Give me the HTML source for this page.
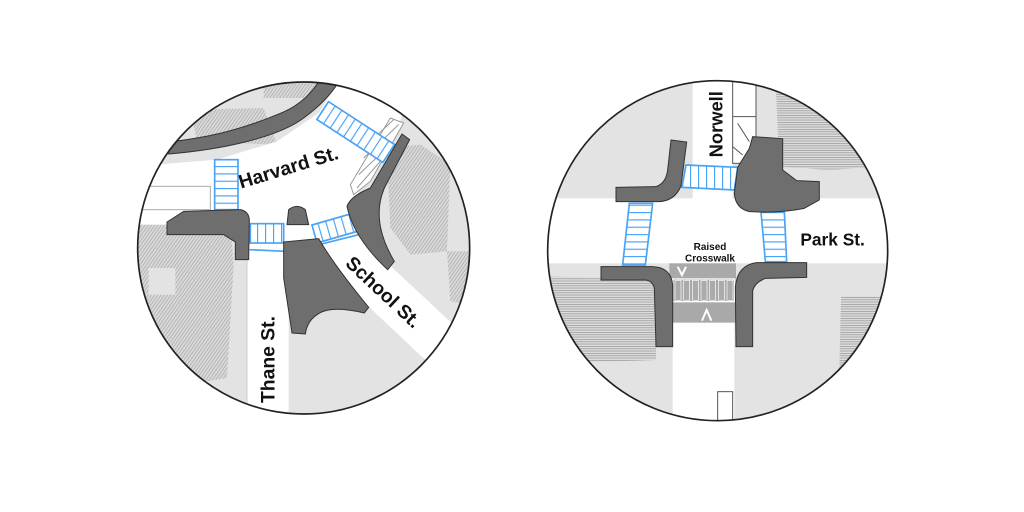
<!DOCTYPE html>
<html><head><meta charset="utf-8"><style>
html,body{margin:0;padding:0;background:#fff}
svg{display:block}
text{font-family:"Liberation Sans",sans-serif;font-weight:bold;fill:#111}
</style></head><body>
<svg width="1024" height="512" viewBox="0 0 1024 512" xmlns="http://www.w3.org/2000/svg">
<defs>
<pattern id="hatchD" patternUnits="userSpaceOnUse" width="8" height="8" patternTransform="rotate(35)">
<rect width="8" height="8" fill="#d8d8d8"/><line x1="0" y1="0" x2="0" y2="8" stroke="#9a9a9a" stroke-width="3"/></pattern>
<pattern id="hatchH" patternUnits="userSpaceOnUse" width="8" height="7">
<rect width="8" height="7" fill="#dcdcdc"/><line x1="0" y1="1" x2="8" y2="1" stroke="#9a9a9a" stroke-width="2.5"/></pattern>
<pattern id="vr" patternUnits="userSpaceOnUse" width="24" height="10">
<rect width="24" height="10" fill="#fff"/><line x1="1" y1="0" x2="1" y2="10" stroke="#4aa3f5" stroke-width="5"/></pattern>
<pattern id="hr" patternUnits="userSpaceOnUse" width="10" height="22">
<rect width="10" height="22" fill="#fff"/><line x1="0" y1="1" x2="10" y2="1" stroke="#4aa3f5" stroke-width="5"/></pattern>
<pattern id="gvr" patternUnits="userSpaceOnUse" width="26" height="10">
<rect width="26" height="10" fill="#8f8f8f"/><rect x="4" width="18" height="10" fill="#ababab"/></pattern>
<clipPath id="cL"><circle cx="500" cy="510" r="498"/></clipPath>
<clipPath id="cR"><circle cx="515" cy="512" r="510"/></clipPath>
</defs>

<!-- LEFT -->
<g transform="translate(137,78) scale(0.33333)">
<g clip-path="url(#cL)">
<rect x="-10" y="-10" width="1030" height="1040" fill="#e3e3e3"/>
<path d="M160,95 L380,90 L420,200 L180,190 Z" fill="url(#hatchD)"/>
<path d="M380,0 L540,0 L530,60 L380,60 Z" fill="url(#hatchD)"/>
<path d="M0,440 L280,440 L290,560 L270,900 L150,920 L0,900 Z" fill="url(#hatchD)"/>
<rect x="35" y="570" width="80" height="80" fill="#e3e3e3"/>
<path d="M750,210 L850,200 L940,260 L930,520 L820,530 L760,450 Z" fill="url(#hatchD)"/>
<path d="M930,520 L1000,520 L1000,680 L940,670 Z" fill="url(#hatchD)"/>
<path d="M0,265 L240,245 L420,190 L545,105 L610,0 L820,0 L780,170 L660,350 L640,420 L660,470 L960,750 L880,860 L540,540 L455,520 L455,1030 L330,1030 L330,440 L0,440 Z" fill="#fff"/>
<rect x="-5" y="325" width="225" height="70" fill="#fff" stroke="#aaa" stroke-width="3"/>
<line x1="330" y1="520" x2="330" y2="1030" stroke="#ccc" stroke-width="3"/>
<!-- hatched striped zone -->
<path d="M760,120 L800,135 L700,310 L650,350 L640,320 Z" fill="#fff" stroke="#999" stroke-width="3"/>
<path d="M770,125 L700,190 M785,140 L680,240 M760,200 L665,290 M730,250 L660,330" stroke="#999" stroke-width="3"/>
<!-- crosswalks -->
<rect x="233" y="245" width="70" height="150" fill="url(#hr)" stroke="#4aa3f5" stroke-width="5"/>
<g transform="translate(656,162) rotate(33)"><rect x="-118" y="-32" width="236" height="64" fill="url(#vr)" stroke="#4aa3f5" stroke-width="5"/></g>
<rect x="340" y="437" width="100" height="58" fill="url(#vr)" stroke="#4aa3f5" stroke-width="5"/>
<line x1="338" y1="515" x2="445" y2="520" stroke="#4aa3f5" stroke-width="5"/>
<g transform="translate(595,450) rotate(-16)"><rect x="-65" y="-28" width="130" height="56" fill="url(#vr)" stroke="#4aa3f5" stroke-width="5"/></g>
<line x1="545" y1="500" x2="665" y2="470" stroke="#4aa3f5" stroke-width="5"/>
<!-- dark shapes -->
<g fill="#6e6e6e" stroke="#333" stroke-width="3">
<path d="M95,228 C250,215 420,180 500,120 C555,80 590,40 612,0 L555,-5 C530,40 490,85 420,110 C300,160 200,180 95,192 Z"/>
<path d="M90,432 L140,400 L310,395 Q335,400 337,425 L335,545 L295,545 L295,492 L260,470 L90,470 Z"/>
<path d="M795,168 L818,185 L742,330 Q700,430 772,550 L752,575 Q650,480 630,385 Q640,355 700,330 Z"/>
<path d="M440,492 L545,482 Q590,560 695,688 L682,705 Q580,680 540,710 Q510,730 505,768 L465,765 L440,600 Z"/>
<path d="M450,440 L455,395 Q480,375 505,395 L515,440 Z"/>
</g>
</g>
<circle cx="500" cy="510" r="498" fill="none" stroke="#222" stroke-width="5"/>
<text x="0" y="0" font-size="58" transform="translate(312,332) rotate(-17)">Harvard St.</text>
<text x="0" y="0" font-size="58" transform="translate(622,560) rotate(43)">School St.</text>
<text x="0" y="0" font-size="58" transform="translate(412,975) rotate(-90)">Thane St.</text>
</g>

<!-- RIGHT -->
<g transform="translate(546,80) scale(0.33333)">
<g clip-path="url(#cR)">
<rect x="-10" y="-10" width="1040" height="1040" fill="#e3e3e3"/>
<path d="M690,30 L1000,30 L1010,260 L850,270 L700,260 Z" fill="url(#hatchH)"/>
<path d="M0,590 L330,595 L330,840 L0,850 Z" fill="url(#hatchH)"/>
<path d="M885,650 L1010,650 L1010,880 L880,870 Z" fill="url(#hatchH)"/>
<rect x="-10" y="355" width="1050" height="195" fill="#fff"/>
<rect x="440" y="-10" width="120" height="370" fill="#fff"/>
<rect x="380" y="720" width="185" height="320" fill="#fff"/>
<rect x="560" y="0" width="70" height="250" fill="#fff" stroke="#555" stroke-width="3"/>
<path d="M560,110 L630,110 M575,130 L610,185 M560,200 L590,225" stroke="#555" stroke-width="3"/>
<rect x="515" y="935" width="45" height="100" fill="#fff" stroke="#555" stroke-width="3"/>
<!-- raised crosswalk -->
<rect x="370" y="550" width="200" height="178" fill="#a9a9a9"/>
<rect x="380" y="597" width="186" height="68" fill="url(#gvr)" stroke="#fff" stroke-width="4"/>
<g fill="#fff"><rect x="386" y="600" width="20" height="62"/><rect x="412" y="600" width="20" height="62"/><rect x="438" y="600" width="20" height="62"/><rect x="464" y="600" width="20" height="62"/><rect x="490" y="600" width="20" height="62"/><rect x="516" y="600" width="20" height="62"/><rect x="542" y="600" width="20" height="62"/></g>
<g fill="#ababab"><rect x="388" y="602" width="16" height="58"/><rect x="414" y="602" width="16" height="58"/><rect x="440" y="602" width="16" height="58"/><rect x="466" y="602" width="16" height="58"/><rect x="492" y="602" width="16" height="58"/><rect x="518" y="602" width="16" height="58"/><rect x="544" y="602" width="16" height="58"/></g>
<path d="M395,560 L408,585 L420,560" fill="none" stroke="#fff" stroke-width="6"/>
<path d="M468,722 L482,690 L496,722" fill="none" stroke="#fff" stroke-width="6"/>
<!-- crosswalks -->
<path d="M420,255 L575,262 L565,330 L408,322 Z" fill="url(#vr)" stroke="#4aa3f5" stroke-width="5"/>
<path d="M250,370 L320,370 L298,555 L230,555 Z" fill="url(#hr)" stroke="#4aa3f5" stroke-width="5"/>
<path d="M645,395 L715,395 L722,545 L658,545 Z" fill="url(#hr)" stroke="#4aa3f5" stroke-width="5"/>
<!-- dark -->
<g fill="#6e6e6e" stroke="#333" stroke-width="3">
<path d="M375,180 L422,186 L405,318 Q385,365 335,365 L210,365 L210,322 L330,320 Q360,310 365,270 Z"/>
<path d="M620,170 L710,176 L710,270 L752,302 L820,305 L820,360 L775,385 Q700,400 610,395 Q568,385 565,340 L575,262 L610,205 Z"/>
<path d="M165,560 L320,560 Q375,562 380,615 L380,800 L330,800 L325,625 Q320,603 300,600 L165,600 Z"/>
<path d="M570,800 L620,800 L620,632 Q628,605 660,595 L782,592 L782,548 L632,548 Q575,555 568,620 Z"/>
</g>
</g>
<circle cx="515" cy="512" r="510" fill="none" stroke="#222" stroke-width="5"/>
<text x="0" y="0" font-size="55" transform="translate(530,232) rotate(-90)">Norwell</text>
<text x="763" y="497" font-size="52">Park St.</text>
<text x="492" y="510" font-size="30" text-anchor="middle">Raised</text>
<text x="492" y="545" font-size="30" text-anchor="middle">Crosswalk</text>
</g>
</svg>
</body></html>
